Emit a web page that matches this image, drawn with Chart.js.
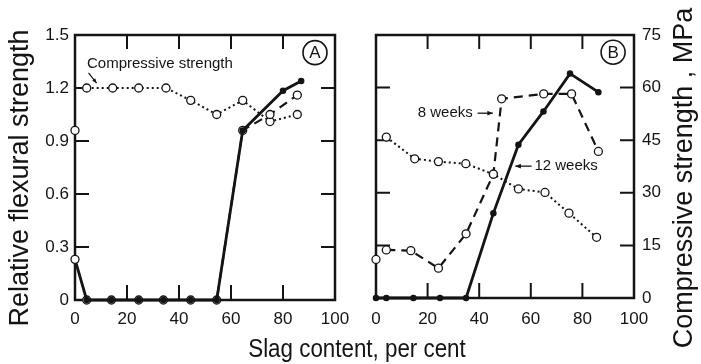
<!DOCTYPE html>
<html><head><meta charset="utf-8">
<script src="https://cdn.jsdelivr.net/npm/chart.js@4"></script>
<style>
html,body{margin:0;padding:0;background:#fff;}
#wrap{position:relative;width:701px;height:364px;overflow:hidden;}
canvas{position:absolute;left:0;top:0;}
</style></head><body>
<div id="wrap"><canvas id="cA" width="701" height="364"></canvas><canvas id="cB" width="701" height="364"></canvas></div>
<script>
// ---------- data ----------
const xTicks  = [0, 20, 40, 60, 80, 100];
const yTicksA = [0, 0.3, 0.6, 0.9, 1.2, 1.5];
const yTicksB = [0, 15, 30, 45, 60, 75];

// Panel A – relative flexural strength
const aCompX = [4.5, 14.5, 24.5, 35, 44.5, 54.5, 64.5, 75, 85.5];
const aCompY = [1.2, 1.2, 1.2, 1.2, 1.13, 1.05, 1.13, 1.01, 1.05];
const a8wX   = [4.5, 14, 24.5, 34, 44.5, 54.5, 64.5, 75, 85.5];
const a8wY   = [0, 0, 0, 0, 0, 0, 0.96, 1.05, 1.16];
const a12wX  = [0, 4.5, 14, 24.5, 34, 44.5, 54.5, 64.5, 80, 87];
const a12wY  = [0.23, 0, 0, 0, 0, 0, 0, 0.96, 1.185, 1.24];
const aZeroX = [0];
const aZeroY = [0.96];

// Panel B – compressive strength, MPa
const bCompX = [4, 15, 24.2, 34.8, 45.5, 55.2, 65.5, 74.8, 85.5];
const bCompY = [45.9, 39.7, 38.9, 38.3, 35.3, 31.1, 30.1, 24.2, 17.3];
const b8wX   = [4, 13.5, 24.2, 34.9, 45.5, 48.7, 65, 75.8, 86.2];
const b8wY   = [13.7, 13.5, 8.5, 18.3, 35.3, 56.8, 58.2, 58.2, 41.8];
const b12wX  = [0, 4, 14.5, 24.8, 34.9, 45.5, 55.2, 64.9, 75.2, 86.2];
const b12wY  = [0, 0, 0, 0, 0, 24.2, 43.7, 53.2, 64, 58.7];
const bZeroX = [0];
const bZeroY = [11];

// ---------- helpers ----------
const INK = '#141414';
const FONT = '"Liberation Sans", Arial, Helvetica, sans-serif';
const pts = (xs, ys) => xs.map((x, i) => ({x: x, y: ys[i]}));

function dotted(xs, ys, order) {
  return {data: pts(xs, ys), clip: false, borderColor: INK, borderWidth: 2, borderDash: [2, 3],
    pointRadius: 4, pointBackgroundColor: '#fff', pointBorderColor: INK, pointBorderWidth: 1.3, order: order};
}
function dashed(xs, ys, order) {
  return {data: pts(xs, ys), clip: false, borderColor: INK, borderWidth: 2.2, borderDash: [9, 6],
    pointRadius: 4, pointBackgroundColor: '#fff', pointBorderColor: INK, pointBorderWidth: 1.3, order: order};
}
function solid(xs, ys, order, firstOpen) {
  const r = xs.map((v, i) => (firstOpen && i === 0) ? 4 : 2.6);
  const bg = xs.map((v, i) => (firstOpen && i === 0) ? '#fff' : INK);
  return {data: pts(xs, ys), clip: false, borderColor: INK, borderWidth: 2.8,
    pointRadius: r, pointBackgroundColor: bg, pointBorderColor: INK, pointBorderWidth: 1.3, order: order};
}
function single(xs, ys, order) {
  return {data: pts(xs, ys), clip: false, showLine: false, pointRadius: 4, pointBackgroundColor: '#fff',
    pointBorderColor: INK, pointBorderWidth: 1.3, order: order};
}

function arrow(ctx, x1, y1, x2, y2, head) {
  ctx.beginPath(); ctx.moveTo(x1, y1); ctx.lineTo(x2, y2); ctx.stroke();
  const a = Math.atan2(y2 - y1, x2 - x1);
  ctx.beginPath();
  ctx.moveTo(x2, y2);
  ctx.lineTo(x2 - head * Math.cos(a - 0.4), y2 - head * Math.sin(a - 0.4));
  ctx.lineTo(x2 - head * Math.cos(a + 0.4), y2 - head * Math.sin(a + 0.4));
  ctx.closePath(); ctx.fill();
}

function framePlugin(cfg) {
  return {
    id: 'frame',
    beforeDatasetsDraw(chart) {
      const ctx = chart.ctx, a = chart.chartArea;
      const xs = chart.scales.x, ys = chart.scales.y;
      ctx.save();
      ctx.strokeStyle = INK; ctx.fillStyle = INK;
      // inward ticks
      ctx.lineWidth = 2;
      ctx.beginPath();
      xTicks.slice(1, -1).forEach(v => {
        const px = xs.getPixelForValue(v);
        ctx.moveTo(px, a.top); ctx.lineTo(px, a.top + 14);
        ctx.moveTo(px, a.bottom); ctx.lineTo(px, a.bottom - 15);
      });
      cfg.yTicks.slice(1, -1).forEach(v => {
        const py = ys.getPixelForValue(v);
        ctx.moveTo(a.left, py); ctx.lineTo(a.left + 14, py);
        ctx.moveTo(a.right, py); ctx.lineTo(a.right - 14, py);
      });
      ctx.stroke();
      // frame
      ctx.lineWidth = 2.5;
      ctx.strokeRect(a.left, a.top, a.right - a.left, a.bottom - a.top);
      // circled panel letter
      const cx = xs.getPixelForValue(cfg.letterAt[0]), cy = ys.getPixelForValue(cfg.letterAt[1]);
      ctx.lineWidth = 1.6;
      ctx.beginPath(); ctx.arc(cx, cy, 12, 0, Math.PI * 2); ctx.stroke();
      ctx.font = '17px ' + FONT; ctx.textAlign = 'center'; ctx.textBaseline = 'middle';
      ctx.fillText(cfg.letter, cx, cy + 1);
      cfg.extra(ctx, xs, ys);
      ctx.restore();
    }
  };
}

function axisCfg(ticksArr, pos, width, padding) {
  return {
    type: 'linear', position: pos, min: ticksArr[0], max: ticksArr[ticksArr.length - 1],
    grid: {display: false, drawTicks: false}, border: {display: false},
    ticks: {color: INK, font: {family: FONT, size: 17}, padding: padding, autoSkip: false, maxRotation: 0},
    afterBuildTicks: s => { s.ticks = ticksArr.map(v => ({value: v})); },
    afterFit: s => { if (s.isHorizontal()) s.height = width; else s.width = width; }
  };
}

// ---------- Panel A ----------
new Chart(document.getElementById('cA'), {
  type: 'line',
  data: {datasets: [
    solid(a12wX, a12wY, 1, true),
    dashed(a8wX, a8wY, 2),
    dotted(aCompX, aCompY, 3),
    single(aZeroX, aZeroY, 4)
  ]},
  options: {
    responsive: false, animation: false, events: [],
    layout: {padding: {left: 0, top: 35, right: 366, bottom: 0}},
    plugins: {legend: {display: false}, tooltip: {enabled: false}},
    elements: {line: {tension: 0}},
    scales: {x: axisCfg(xTicks, 'bottom', 64, 9), y: axisCfg(yTicksA, 'left', 75, 6)}
  },
  plugins: [framePlugin({
    yTicks: yTicksA, letter: 'A', letterAt: [92.3, 1.4],
    extra(ctx, xs, ys) {
      ctx.font = '15px ' + FONT; ctx.textAlign = 'left'; ctx.textBaseline = 'middle';
      ctx.fillText('Compressive strength', xs.getPixelForValue(4.6), ys.getPixelForValue(1.335));
      ctx.lineWidth = 1.2;
      arrow(ctx, xs.getPixelForValue(5.2), ys.getPixelForValue(1.285), xs.getPixelForValue(8.3), ys.getPixelForValue(1.228), 5);
      // axis titles
      ctx.font = '27px ' + FONT; ctx.textBaseline = 'alphabetic'; ctx.textAlign = 'center';
      ctx.save(); ctx.translate(28, 178); ctx.rotate(-Math.PI / 2);
      ctx.fillText('Relative flexural strength', 0, 0); ctx.restore();
      ctx.save(); ctx.translate(357, 357); ctx.scale(0.86, 1);
      ctx.font = '26px ' + FONT;
      ctx.fillText('Slag content, per cent', 0, 0); ctx.restore();
    }
  })]
});

// ---------- Panel B ----------
new Chart(document.getElementById('cB'), {
  type: 'line',
  data: {datasets: [
    solid(b12wX, b12wY, 1, false),
    dashed(b8wX, b8wY, 2),
    dotted(bCompX, bCompY, 3),
    single(bZeroX, bZeroY, 4)
  ]},
  options: {
    responsive: false, animation: false, events: [],
    layout: {padding: {left: 376, top: 35, right: 0, bottom: 0}},
    plugins: {legend: {display: false}, tooltip: {enabled: false}},
    elements: {line: {tension: 0}},
    scales: {x: axisCfg(xTicks, 'bottom', 66, 11), y: axisCfg(yTicksB, 'right', 67, 8)}
  },
  plugins: [framePlugin({
    yTicks: yTicksB, letter: 'B', letterAt: [91.9, 70.1],
    extra(ctx, xs, ys) {
      ctx.font = '15px ' + FONT; ctx.textBaseline = 'middle';
      const y8 = ys.getPixelForValue(52.7);
      ctx.textAlign = 'right';
      ctx.fillText('8 weeks', xs.getPixelForValue(37.5), y8);
      ctx.lineWidth = 1.3;
      arrow(ctx, xs.getPixelForValue(39.4), y8, xs.getPixelForValue(45.3), y8, 6);
      const y12 = ys.getPixelForValue(37.6);
      ctx.textAlign = 'left';
      ctx.fillText('12 weeks', xs.getPixelForValue(61.4), y12);
      arrow(ctx, xs.getPixelForValue(60.3), y12, xs.getPixelForValue(54), y12, 6);
      ctx.font = '27px ' + FONT; ctx.textBaseline = 'alphabetic'; ctx.textAlign = 'center';
      ctx.save(); ctx.translate(692, 178); ctx.rotate(-Math.PI / 2);
      ctx.fillText('Compressive strength , MPa', 0, 0); ctx.restore();
    }
  })]
});
</script>
</body></html>
